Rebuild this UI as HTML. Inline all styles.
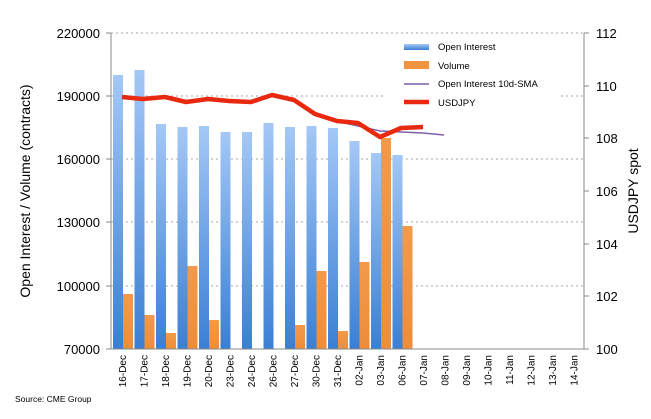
<!DOCTYPE html>
<html><head><style>
body{margin:0;background:#fff;}
svg text{font-family:"Liberation Sans",sans-serif;}
</style></head><body>
<svg width="651" height="414" xmlns="http://www.w3.org/2000/svg">
<defs>
<linearGradient id="oi" x1="0" y1="0" x2="0" y2="1">
<stop offset="0" stop-color="#a4c8f6"/><stop offset="1" stop-color="#3a7fd4"/>
</linearGradient>
<linearGradient id="vo" x1="0" y1="0" x2="0" y2="1">
<stop offset="0" stop-color="#f29a4a"/><stop offset="1" stop-color="#ee8d3a"/>
</linearGradient>
</defs>
<g stroke="#aaa" stroke-dasharray="2,3" stroke-width="1">
<line x1="111" y1="33" x2="584" y2="33"/>
<line x1="111" y1="96" x2="584" y2="96"/>
<line x1="111" y1="159" x2="584" y2="159"/>
<line x1="111" y1="222" x2="584" y2="222"/>
<line x1="111" y1="286" x2="584" y2="286"/>
</g>
<rect x="385" y="38" width="175" height="76" fill="#fff"/>
<g id="bars"></g>
<!-- OI bars -->
<g fill="url(#oi)">
<rect x="113" y="75" width="10" height="274"/>
<rect x="134.5" y="70" width="10" height="279"/>
<rect x="156" y="124" width="10" height="225"/>
<rect x="177.5" y="127" width="10" height="222"/>
<rect x="199" y="126" width="10" height="223"/>
<rect x="220.5" y="132" width="10" height="217"/>
<rect x="242" y="132" width="10" height="217"/>
<rect x="263.5" y="123" width="10" height="226"/>
<rect x="285" y="127" width="10" height="222"/>
<rect x="306.5" y="126" width="10" height="223"/>
<rect x="328" y="128" width="10" height="221"/>
<rect x="349.5" y="141" width="10" height="208"/>
<rect x="371" y="153" width="10" height="196"/>
<rect x="392.5" y="155" width="10" height="194"/>
</g>
<g fill="url(#vo)">
<rect x="123" y="294" width="10" height="55"/>
<rect x="144.5" y="315" width="10" height="34"/>
<rect x="166" y="333" width="10" height="16"/>
<rect x="187.5" y="266" width="10" height="83"/>
<rect x="209" y="320" width="10" height="29"/>
<rect x="295" y="325" width="10" height="24"/>
<rect x="316.5" y="271" width="10" height="78"/>
<rect x="338" y="331" width="10" height="18"/>
<rect x="359.5" y="262" width="10" height="87"/>
<rect x="381" y="138" width="10" height="211"/>
<rect x="402.5" y="226" width="10" height="123"/>
</g>
<polyline fill="none" stroke="#7d5fa8" stroke-width="1.5" points="336,121 358,126 380,131 401,132 423,133 444,135"/>
<polyline fill="none" stroke="#e8290f" stroke-width="4.5" stroke-linejoin="round" points="122,97 143,99 165,97 186,102 208,99 229,101 251,102 272,95 294,100 315,114 337,121 358,123 380,137 401,128 423,127"/>
<g stroke="#888" stroke-width="1">
<line x1="111" y1="33" x2="111" y2="349"/>
<line x1="584" y1="33" x2="584" y2="349"/>
<line x1="111" y1="349" x2="584" y2="349"/>
<line x1="106" y1="33" x2="111" y2="33"/><line x1="106" y1="96" x2="111" y2="96"/><line x1="106" y1="159" x2="111" y2="159"/><line x1="106" y1="222" x2="111" y2="222"/><line x1="106" y1="286" x2="111" y2="286"/><line x1="106" y1="349" x2="111" y2="349"/>
<line x1="584" y1="33" x2="589" y2="33"/><line x1="584" y1="86" x2="589" y2="86"/><line x1="584" y1="138" x2="589" y2="138"/><line x1="584" y1="191" x2="589" y2="191"/><line x1="584" y1="244" x2="589" y2="244"/><line x1="584" y1="296" x2="589" y2="296"/><line x1="584" y1="349" x2="589" y2="349"/>
</g>
<g font-size="13" text-anchor="end" fill="#000">
<text x="100" y="38">220000</text><text x="100" y="101">190000</text><text x="100" y="164">160000</text><text x="100" y="227">130000</text><text x="100" y="291">100000</text><text x="100" y="354">70000</text>
</g>
<g font-size="13" fill="#000">
<text x="596" y="38">112</text><text x="596" y="91">110</text><text x="596" y="143">108</text><text x="596" y="196">106</text><text x="596" y="249">104</text><text x="596" y="301">102</text><text x="596" y="354">100</text>
</g>
<text transform="translate(30,191) rotate(-90)" font-size="14" text-anchor="middle">Open Interest / Volume (contracts)</text>
<text transform="translate(638,191) rotate(-90)" font-size="14" text-anchor="middle">USDJPY spot</text>
<g font-size="10" text-anchor="end" fill="#000">
<text transform="translate(126,355) rotate(-90)">16-Dec</text>
<text transform="translate(147.5,355) rotate(-90)">17-Dec</text>
<text transform="translate(169,355) rotate(-90)">18-Dec</text>
<text transform="translate(190.5,355) rotate(-90)">19-Dec</text>
<text transform="translate(212,355) rotate(-90)">20-Dec</text>
<text transform="translate(233.5,355) rotate(-90)">23-Dec</text>
<text transform="translate(255,355) rotate(-90)">24-Dec</text>
<text transform="translate(276.5,355) rotate(-90)">26-Dec</text>
<text transform="translate(298,355) rotate(-90)">27-Dec</text>
<text transform="translate(319.5,355) rotate(-90)">30-Dec</text>
<text transform="translate(341,355) rotate(-90)">31-Dec</text>
<text transform="translate(362.5,355) rotate(-90)">02-Jan</text>
<text transform="translate(384,355) rotate(-90)">03-Jan</text>
<text transform="translate(405.5,355) rotate(-90)">06-Jan</text>
<text transform="translate(427,355) rotate(-90)">07-Jan</text>
<text transform="translate(448.5,355) rotate(-90)">08-Jan</text>
<text transform="translate(470,355) rotate(-90)">09-Jan</text>
<text transform="translate(491.5,355) rotate(-90)">10-Jan</text>
<text transform="translate(513,355) rotate(-90)">11-Jan</text>
<text transform="translate(534.5,355) rotate(-90)">12-Jan</text>
<text transform="translate(556,355) rotate(-90)">13-Jan</text>
<text transform="translate(577.5,355) rotate(-90)">14-Jan</text>
</g>
<rect x="404" y="44" width="25" height="6" fill="url(#oi)"/>
<rect x="404" y="61" width="25" height="8" fill="#f0953f"/>
<line x1="404" y1="84" x2="429" y2="84" stroke="#7d5fa8" stroke-width="1.5"/>
<line x1="404" y1="102" x2="429" y2="102" stroke="#e8290f" stroke-width="4.5"/>
<g font-size="9.5" fill="#000">
<text x="438" y="50">Open Interest</text>
<text x="438" y="69">Volume</text>
<text x="438" y="87">Open Interest 10d-SMA</text>
<text x="438" y="106">USDJPY</text>
</g>
<text x="15" y="402" font-size="8.5">Source: CME Group</text>
</svg>
</body></html>
